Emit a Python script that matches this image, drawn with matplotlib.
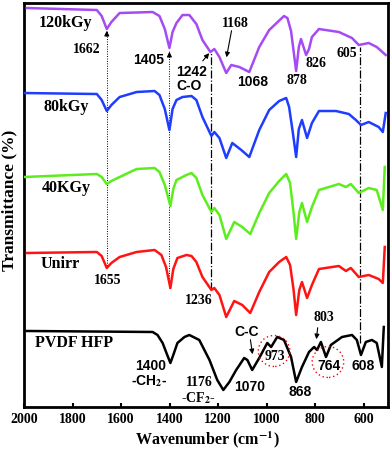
import numpy as np
import matplotlib.pyplot as plt
from matplotlib.patches import Ellipse

# wavenumber (cm-1) and stacked transmittance (arb. units)
wn_120 = [1988, 1700, 1680, 1659, 1640, 1606, 1470, 1442, 1420, 1401, 1388, 1372, 1347, 1319, 1290, 1265,
          1232, 1216, 1195, 1167, 1146, 1113, 1072, 1031, 990, 929, 915, 900, 879, 868, 859, 838, 826,
          814, 785, 703, 649, 621, 580, 547, 510]
t_120 = [399, 397, 391, 378, 385, 394, 395, 391, 378, 359, 375, 384, 392, 392, 383, 367,
         355, 358, 350, 334, 342, 340, 335, 360, 377, 391, 389, 376, 336, 360, 368, 352, 358,
         370, 378, 375, 369, 362, 364, 360, 352]

wn_80 = [2000, 1700, 1680, 1659, 1640, 1606, 1536, 1462, 1442, 1420, 1401, 1388, 1372, 1347, 1310, 1290,
         1265, 1228, 1216, 1195, 1167, 1142, 1105, 1072, 1031, 990, 949, 920, 908, 893, 879, 868, 855,
         834, 814, 785, 715, 662, 633, 612, 580, 539, 522, 510]
t_80 = [314, 313, 307, 296, 302, 310, 315, 316, 312, 298, 277, 298, 307, 310, 311, 307,
        290, 271, 275, 269, 249, 264, 257, 250, 277, 297, 306, 309, 300, 275, 250, 278, 287,
        269, 284, 296, 296, 293, 287, 282, 285, 280, 275, 294]

wn_40 = [2000, 1700, 1680, 1659, 1640, 1606, 1536, 1462, 1442, 1420, 1397, 1385, 1372, 1331, 1310, 1290,
         1265, 1228, 1216, 1195, 1167, 1134, 1101, 1068, 1031, 990, 949, 920, 904, 890, 879, 866, 855,
         834, 814, 785, 703, 674, 654, 621, 580, 547, 522, 514]
t_40 = [230, 233, 230, 223, 226, 230, 238, 239, 235, 222, 201, 218, 227, 232, 234, 229,
        212, 195, 199, 192, 168, 185, 180, 173, 194, 214, 226, 233, 224, 195, 168, 195, 204,
        185, 200, 217, 223, 220, 223, 214, 219, 217, 197, 240]

wn_un = [1988, 1700, 1680, 1659, 1640, 1606, 1536, 1462, 1434, 1415, 1397, 1385, 1368, 1331, 1310, 1290,
         1265, 1228, 1216, 1195, 1167, 1134, 1101, 1068, 1031, 990, 949, 920, 904, 890, 879, 866, 855,
         834, 814, 785, 703, 674, 654, 621, 580, 539, 522, 514]
t_un = [154, 155, 151, 139, 144, 150, 155, 157, 152, 140, 119, 138, 149, 152, 151, 145,
        130, 117, 119, 112, 90, 106, 102, 94, 115, 135, 145, 150, 142, 118, 92, 117, 125,
        109, 122, 138, 141, 136, 139, 130, 132, 128, 124, 160]

wn_pv = [1988, 1470, 1450, 1429, 1410, 1397, 1385, 1368, 1339, 1319, 1278, 1236, 1204, 1179, 1154, 1126,
         1093, 1080, 1060, 1031, 998, 982, 957, 929, 900, 879, 855, 826, 805, 793, 777, 756, 736, 690,
         649, 629, 612, 592, 567, 547, 526, 518]
t_pv = [76, 75, 72, 64, 52, 44, 52, 64, 70, 72, 67, 47, 27, 17, 25, 37,
        49, 47, 37, 49, 64, 60, 70, 67, 50, 25, 40, 55, 60, 57, 65, 50, 62, 70,
        72, 67, 52, 65, 67, 64, 40, 80]

series = [(wn_120, t_120, '#a64bf4'), (wn_80, t_80, '#1f3dff'), (wn_40, t_40, '#5cee1c'),
          (wn_un, t_un, '#ff1414'), (wn_pv, t_pv, 'black')]

serif = 'Liberation Serif'
sans = 'Liberation Sans'
plt.rcParams['mathtext.fontset'] = 'stix'

fig = plt.figure(figsize=(3.92, 4.5), dpi=100)
ax = fig.add_axes([0.0612, 0.0956, 0.929, 0.8977])

for x, y, c in series:
    ax.plot(x, y, color=c, lw=1.8, solid_joinstyle='round', zorder=3)

# guide lines
ax.plot([1659, 1659], [139, 376], ls=(0, (1, 1.5)), color='black', lw=0.7, zorder=2)
ax.plot([1401, 1401], [119, 357], ls=(0, (1, 1.5)), color='black', lw=0.7, zorder=2)
ax.plot([1228, 1228], [117, 355], ls='-.', color='black', lw=0.9, zorder=2)
ax.plot([616, 616], [64, 360], ls='-.', color='black', lw=0.9, zorder=2)

ap = dict(arrowstyle='-|>', color='black', lw=0.8, mutation_scale=7)
ax.annotate('', xy=(1659, 379), xytext=(1659, 368), arrowprops=ap)
ax.annotate('', xy=(1401, 358), xytext=(1401, 347), arrowprops=ap)
ax.annotate('', xy=(1230, 356), xytext=(1271, 344), arrowprops=ap)
ax.annotate('', xy=(1168, 347), xytext=(1143, 379), arrowprops=ap)
ax.annotate('', xy=(1057, 50), xytext=(1069, 70), arrowprops=ap)
ax.annotate('', xy=(797, 65), xytext=(789, 82), arrowprops=ap)

fs_name = 11.5
fs_num = 10
names = [('120kGy', 1831, 384), ('80kGy', 1827, 300), ('40KGy', 1827, 219),
         ('Unirr', 1852, 143), ('PVDF HFP', 1794, 64)]
for s, x, y in names:
    ax.text(x, y, s, family=serif, weight='bold', fontsize=fs_name, ha='center', va='center')

serif_labels = [('1662', 1740, 358), ('1168', 1131, 384), ('878', 875, 327), ('826', 797, 344),
                ('605', 669, 354), ('1655', 1654, 126), ('1236', 1279, 106), ('1176', 1279, 24),
                ('-CF$_\\mathbf{2}$-', 1283, 9), ('973', 966, 50), ('803', 764, 89)]
for s, x, y in serif_labels:
    ax.text(x, y, s, family=serif, weight='bold', fontsize=fs_num, ha='center', va='center')

sans_labels = [('1405', 1485, 347), ('1242', 1312, 335), ('C-O', 1320, 321), ('1068', 1057, 325),
               ('1400', 1477, 41), ('-CH$_\\mathbf{2}$-', 1485, 26), ('1070', 1069, 20), ('868', 863, 15),
               ('764', 743, 41), ('608', 603, 41), ('C-C', 1081, 75)]
for s, x, y in sans_labels:
    ax.text(x, y, s, family=sans, weight='bold', fontsize=fs_num, ha='center', va='center')

for cx, cy in [(970, 56), (748, 45)]:
    ax.add_patch(Ellipse((cx, cy), 130, 31, fill=False, ec='red', ls=(0, (1, 2)), lw=1, zorder=4))

ax.set_xlim(2000, 500)
ax.set_ylim(0, 404)
ax.set_xticks(np.arange(2000, 599, -200))
ax.set_yticks([])
ax.tick_params(axis='x', direction='in', length=3, width=1.5, pad=4)
for lab in ax.get_xticklabels():
    lab.set_family(serif)
    lab.set_weight('bold')
    lab.set_fontsize(10)
for sp in ax.spines.values():
    sp.set_linewidth(2)

fig.text(207 / 392, 1 - 440 / 450, 'Wavenumber (cm$^{\\mathbf{-1}}$)', family=serif, weight='bold',
         fontsize=11.5, ha='center', va='center')
fig.text(9 / 392, 1 - 200 / 450, 'Transmittance (%)', family=serif, weight='bold',
         fontsize=12.5, ha='center', va='center', rotation=90)

fig.savefig('out.png', dpi=100)
